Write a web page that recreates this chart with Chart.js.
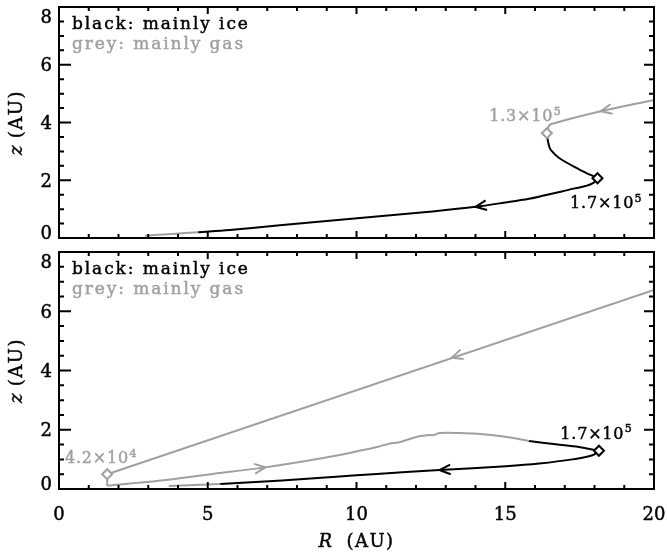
<!DOCTYPE html>
<html>
<head>
<meta charset="utf-8">
<script src="https://cdn.jsdelivr.net/npm/chart.js@4.4.0/dist/chart.umd.min.js"></script>
<style>
  html, body { margin: 0; padding: 0; background: #fff; overflow: hidden; }
  #wrap { position: relative; width: 667px; height: 553px; }
  .panel { position: absolute; left: 0; width: 667px; }
  #top { top: 0; height: 245px; }
  #bottom { top: 245px; height: 308px; }
</style>
</head>
<body>
<div id="wrap">
  <div class="panel" id="top"><canvas id="topChart"></canvas></div>
  <div class="panel" id="bottom"><canvas id="bottomChart"></canvas></div>
</div>
<script>
// axis ticks
const xTicks = [0, 5, 10, 15, 20];
const yTicks = [0, 2, 4, 6, 8];
const xTickLabels = ["0", "5", "10", "15", "20"];
const yTickLabels = ["0", "2", "4", "6", "8"];

// top panel: R and z in AU
const topGasInR = [20, 18.21, 16.53, 16.45, 16.4];
const topGasInZ = [4.78, 4.39, 3.94, 3.85, 3.63];
const topIceR = [16.4, 16.42, 16.47, 16.53, 16.81, 17.48, 18.1];
const topIceZ = [3.63, 3.44, 3.2, 3.05, 2.77, 2.38, 2.07];
const topIceBackR = [18.1, 17.95, 17.7, 17.3, 16.9, 16.3, 15.8, 15.0, 14.0, 12.45, 10.77, 9.09, 7.42, 5.74, 4.68];
const topIceBackZ = [2.07, 1.9, 1.8, 1.71, 1.61, 1.47, 1.36, 1.23, 1.08, 0.91, 0.75, 0.6, 0.44, 0.28, 0.2];
const topGasTailR = [4.68, 3.8, 2.89];
const topGasTailZ = [0.2, 0.14, 0.08];
const topMarkGasR = [16.4], topMarkGasZ = [3.63];
const topMarkIceR = [18.1], topMarkIceZ = [2.07];

// bottom panel
const botGasInR = [20, 1.62];
const botGasInZ = [6.72, 0.5];
const botGasDropR = [1.62, 1.62];
const botGasDropZ = [0.5, 0.11];
const botGasRiseR = [1.62, 2.23, 3.36, 5.03, 6.94, 8.2, 9.43, 10.1, 10.7, 11.1, 11.4, 11.67, 12.1, 12.45, 12.6, 12.79, 13.46, 14.24, 15.0, 15.8];
const botGasRiseZ = [0.11, 0.17, 0.28, 0.49, 0.73, 0.93, 1.15, 1.29, 1.42, 1.53, 1.57, 1.65, 1.78, 1.82, 1.82, 1.89, 1.89, 1.85, 1.76, 1.62];
const botIceR = [15.8, 16.7, 17.48, 18.15];
const botIceZ = [1.62, 1.51, 1.42, 1.29];
const botIceBackR = [18.15, 17.93, 17.26, 16.14, 15.02, 12.79, 10.55, 9.43, 7.5, 5.42];
const botIceBackZ = [1.29, 1.14, 1.0, 0.86, 0.77, 0.64, 0.5, 0.42, 0.29, 0.17];
const botGasTailR = [5.42, 3.69];
const botGasTailZ = [0.17, 0.1];
const botMarkGasR = [1.62], botMarkGasZ = [0.5];
const botMarkIceR = [18.15], botMarkIceZ = [1.29];

// arrow heads: tip R, tip z, upstream R, upstream z, colour
const topArrows = [
  [18.21, 4.39, 20, 4.78, "grey"],
  [14.0, 1.08, 15.0, 1.23, "black"]
];
const botArrows = [
  [13.2, 4.43, 20, 6.72, "grey"],
  [6.94, 0.73, 5.03, 0.49, "grey"],
  [12.79, 0.64, 15.02, 0.77, "black"]
];

// number labels: text, exponent, R, z, colour
const topNotes = [
  ["1.3×10", "5", 14.46, 4.24, "grey"],
  ["1.7×10", "5", 17.18, 1.23, "black"]
];
const botNotes = [
  ["4.2×10", "4", 0.2, 1.06, "grey"],
  ["1.7×10", "5", 16.85, 1.9, "black"]
];

const GREY = "#a0a0a0";
const FONT = "'DejaVu Serif', serif";
const colour = c => (c === "grey" ? GREY : "#000");

function pts(rs, zs) {
  return rs.map((r, i) => ({ x: r, y: zs[i] }));
}

function line(rs, zs, c, tension) {
  return {
    data: pts(rs, zs),
    showLine: true,
    borderColor: colour(c),
    borderWidth: 2,
    pointRadius: 0,
    tension: tension,
    fill: false
  };
}

function mark(rs, zs, c) {
  return {
    data: pts(rs, zs),
    showLine: false,
    pointStyle: "rectRot",
    pointRadius: 5,
    pointBorderWidth: 2,
    pointBorderColor: colour(c),
    pointBackgroundColor: "#fff"
  };
}

// text with a little letter spacing and a hairline stroke for weight
function put(ctx, text, x, y, spacing) {
  ctx.letterSpacing = spacing + "px";
  ctx.fillText(text, x, y);
  ctx.lineWidth = 0.45;
  ctx.strokeStyle = ctx.fillStyle;
  ctx.strokeText(text, x, y);
  const w = ctx.measureText(text).width;
  ctx.letterSpacing = "0px";
  return w;
}

function measure(ctx, text, spacing) {
  ctx.letterSpacing = spacing + "px";
  const w = ctx.measureText(text).width;
  ctx.letterSpacing = "0px";
  return w;
}

// frame, ticks, labels, arrows and annotations
const decor = {
  id: "decor",
  afterDatasetsDraw(chart, args, opts) {
    const ctx = chart.ctx;
    const xs = chart.scales.x, ys = chart.scales.y;
    const a = chart.chartArea;
    ctx.save();
    ctx.strokeStyle = "#000";
    ctx.lineWidth = 2;
    ctx.strokeRect(a.left, a.top, a.right - a.left, a.bottom - a.top);

    ctx.beginPath();
    for (let v = 0; v <= 20; v += 1) {
      const px = xs.getPixelForValue(v);
      const len = v % 5 === 0 ? 7 : 4;
      ctx.moveTo(px, a.bottom); ctx.lineTo(px, a.bottom - len);
      ctx.moveTo(px, a.top); ctx.lineTo(px, a.top + len);
    }
    for (let v = 0; v <= 8; v += 0.5) {
      const py = ys.getPixelForValue(v);
      const major = v % 2 === 0;
      ctx.moveTo(a.left, py); ctx.lineTo(a.left + (major ? 12 : 5), py);
      ctx.moveTo(a.right, py); ctx.lineTo(a.right - (major ? 10 : 5), py);
    }
    ctx.stroke();

    // tick labels
    ctx.fillStyle = "#000";
    ctx.font = "18px " + FONT;
    ctx.textBaseline = "alphabetic";
    ctx.textAlign = "right";
    yTicks.forEach((v, i) => {
      let cy = ys.getPixelForValue(v);
      cy = Math.min(Math.max(cy, a.top + 9), a.bottom - 5.5);
      put(ctx, yTickLabels[i], a.left - 7, cy + 6.6, 0);
    });
    if (opts.xLabels) {
      ctx.textAlign = "center";
      xTicks.forEach((v, i) => {
        put(ctx, xTickLabels[i], xs.getPixelForValue(v), a.bottom + 24 + 6.6, 0);
      });
    }
    ctx.textAlign = "left";

    // y title: z (AU)
    ctx.save();
    ctx.translate(15, (a.top + a.bottom) / 2);
    ctx.rotate(-Math.PI / 2);
    ctx.font = "italic 18px " + FONT;
    const zw = measure(ctx, "z", 0);
    ctx.font = "18px " + FONT;
    const rw = measure(ctx, " (AU)", 1.5);
    const tx = -(zw + rw) / 2;
    ctx.font = "italic 18px " + FONT;
    put(ctx, "z", tx, 6.6, 0);
    ctx.font = "18px " + FONT;
    put(ctx, " (AU)", tx + zw, 6.6, 1.5);
    ctx.restore();

    // x title: R (AU)
    if (opts.xLabels) {
      ctx.font = "italic 18px " + FONT;
      const Rw = measure(ctx, "R", 0);
      ctx.font = "18px " + FONT;
      const restW = measure(ctx, "  (AU)", 1.5);
      const x0 = (a.left + a.right) / 2 - (Rw + restW) / 2;
      const by = a.bottom + 51 + 6.6;
      ctx.font = "italic 18px " + FONT;
      put(ctx, "R", x0, by, 0);
      ctx.font = "18px " + FONT;
      put(ctx, "  (AU)", x0 + Rw, by, 1.5);
    }

    // legend text
    ctx.font = "17px " + FONT;
    ctx.fillStyle = "#000";
    put(ctx, "black: mainly ice", a.left + 13, a.top + 22, 1.9);
    ctx.fillStyle = GREY;
    put(ctx, "grey: mainly gas", a.left + 13, a.top + 42, 1.9);

    // number labels
    opts.notes.forEach(n => {
      const x = xs.getPixelForValue(n[2]);
      const y = ys.getPixelForValue(n[3]) + 5.8;
      ctx.fillStyle = colour(n[4]);
      ctx.font = "16px " + FONT;
      const w = put(ctx, n[0], x, y, 0.8);
      ctx.font = "11px " + FONT;
      put(ctx, n[1], x + w + 0.5, y - 6.5, 0);
    });

    // arrow heads
    ctx.lineWidth = 2;
    opts.arrows.forEach(ar => {
      const tx2 = xs.getPixelForValue(ar[0]), ty2 = ys.getPixelForValue(ar[1]);
      const fx = xs.getPixelForValue(ar[2]), fy = ys.getPixelForValue(ar[3]);
      const ang = Math.atan2(fy - ty2, fx - tx2);
      const len = 12, spread = 0.42;
      ctx.strokeStyle = colour(ar[4]);
      ctx.beginPath();
      ctx.moveTo(tx2 + len * Math.cos(ang + spread), ty2 + len * Math.sin(ang + spread));
      ctx.lineTo(tx2, ty2);
      ctx.lineTo(tx2 + len * Math.cos(ang - spread), ty2 + len * Math.sin(ang - spread));
      ctx.stroke();
    });
    ctx.restore();
  }
};

function makePanel(id, datasets, padding, decorOpts) {
  return new Chart(document.getElementById(id), {
    type: "scatter",
    data: { datasets: datasets },
    options: {
      responsive: true,
      maintainAspectRatio: false,
      animation: false,
      layout: { padding: padding },
      scales: {
        x: { type: "linear", min: 0, max: 20, display: false },
        y: { type: "linear", min: 0, max: 8, display: false }
      },
      plugins: {
        legend: { display: false },
        tooltip: { enabled: false },
        decor: decorOpts
      }
    },
    plugins: [decor]
  });
}

makePanel("topChart", [
  mark(topMarkGasR, topMarkGasZ, "grey"),
  mark(topMarkIceR, topMarkIceZ, "black"),
  line(topGasInR, topGasInZ, "grey", 0.2),
  line(topIceR, topIceZ, "black", 0.35),
  line(topIceBackR, topIceBackZ, "black", 0.35),
  line(topGasTailR, topGasTailZ, "grey", 0.2)
], { left: 59, right: 13, top: 1, bottom: 6 }, { arrows: topArrows, notes: topNotes, xLabels: false });

makePanel("bottomChart", [
  mark(botMarkGasR, botMarkGasZ, "grey"),
  mark(botMarkIceR, botMarkIceZ, "black"),
  line(botGasInR, botGasInZ, "grey", 0),
  line(botGasDropR, botGasDropZ, "grey", 0),
  line(botGasRiseR, botGasRiseZ, "grey", 0.35),
  line(botIceR, botIceZ, "black", 0.35),
  line(botIceBackR, botIceBackZ, "black", 0.35),
  line(botGasTailR, botGasTailZ, "grey", 0)
], { left: 59, right: 13, top: 6, bottom: 64 }, { arrows: botArrows, notes: botNotes, xLabels: true });
</script>
</body>
</html>
